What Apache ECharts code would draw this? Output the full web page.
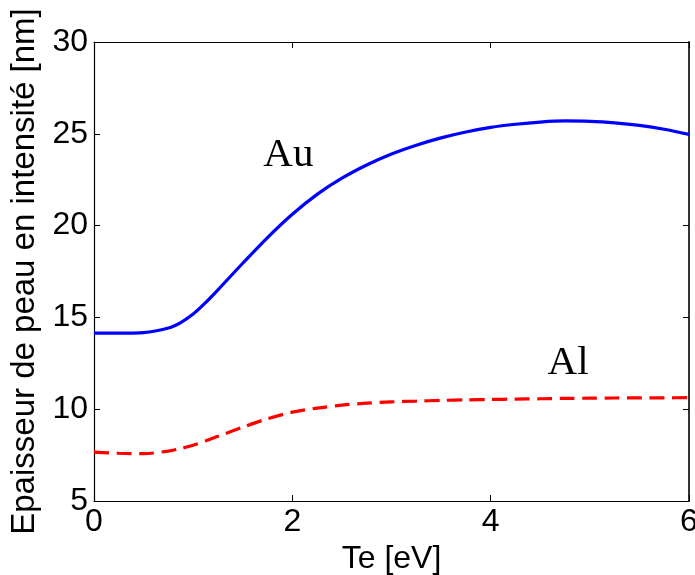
<!DOCTYPE html>
<html>
<head>
<meta charset="utf-8">
<script src="https://cdn.jsdelivr.net/npm/echarts@6/dist/echarts.min.js"></script>
<style>
html, body { margin: 0; padding: 0; background: #fff; }
#chart { width: 695px; height: 575px; }
</style>
</head>
<body>
<div id="chart"></div>
<script>
// Data
var teValues = [0, 0.25, 0.5, 0.75, 0.875, 1.0, 1.125, 1.25, 1.5, 1.75, 2.0, 2.25, 2.5, 2.75, 3.0, 3.25, 3.5, 3.75, 4.0, 4.25, 4.5, 4.75, 5.0, 5.25, 5.5, 5.75, 6.0];
var auValues = [14.14, 14.14, 14.17, 14.42, 14.72, 15.18, 15.8, 16.5, 17.95, 19.35, 20.62, 21.7, 22.58, 23.3, 23.9, 24.38, 24.78, 25.1, 25.35, 25.52, 25.64, 25.7, 25.68, 25.6, 25.46, 25.25, 24.97];
var alValues = [7.66, 7.6, 7.58, 7.72, 7.86, 8.04, 8.27, 8.52, 9.02, 9.48, 9.84, 10.06, 10.22, 10.33, 10.4, 10.44, 10.48, 10.51, 10.53, 10.55, 10.57, 10.59, 10.6, 10.61, 10.62, 10.62, 10.63];
var annotationLabels = ['Au', 'Al'];
var annotationX = [1.96, 4.78];
var annotationY = [23.85, 12.49];
var xTicks = [0, 2, 4, 6];
var yTicks = [5, 10, 15, 20, 25, 30];

function pairs(xs, ys) { return xs.map(function (x, i) { return [x, ys[i]]; }); }

var sansFont = "'Liberation Sans', Arial, Helvetica, sans-serif";
var serifFont = "'Liberation Serif', 'Times New Roman', serif";

var chart = echarts.init(document.getElementById('chart'), null, { renderer: 'canvas' });

var axisLine = { show: true, onZero: false, lineStyle: { color: '#000', width: 1.2 } };
var axisTick = { show: true, inside: true, length: 6, lineStyle: { color: '#000', width: 1 } };

var option = {
  backgroundColor: '#fff',
  animation: false,
  grid: { left: 94, right: 6, top: 42, bottom: 74, containLabel: false, outerBoundsMode: 'none' },
  xAxis: [
    {
      type: 'value', position: 'bottom',
      min: xTicks[0], max: xTicks[xTicks.length - 1], interval: 2,
      name: 'Te [eV]', nameLocation: 'middle', nameGap: 36,
      nameTextStyle: { fontSize: 32, color: '#000', fontFamily: sansFont },
      axisLine: axisLine, axisTick: axisTick,
      axisLabel: { show: true, fontSize: 32, color: '#000', fontFamily: sansFont, margin: 5, showMinLabel: true, showMaxLabel: true, hideOverlap: false },
      splitLine: { show: false }
    },
    {
      type: 'value', position: 'top',
      min: xTicks[0], max: xTicks[xTicks.length - 1], interval: 2,
      axisLine: axisLine, axisTick: axisTick,
      axisLabel: { show: false }, splitLine: { show: false }
    }
  ],
  yAxis: [
    {
      type: 'value', position: 'left',
      min: yTicks[0], max: yTicks[yTicks.length - 1], interval: 5,
      name: 'Epaisseur de peau en intensité [nm]', nameLocation: 'middle', nameGap: 46,
      nameTextStyle: { fontSize: 33, color: '#000', fontFamily: sansFont },
      axisLine: axisLine, axisTick: axisTick,
      axisLabel: { show: true, fontSize: 32, color: '#000', fontFamily: sansFont, margin: 6, showMinLabel: true, showMaxLabel: true, hideOverlap: false },
      splitLine: { show: false }
    },
    {
      type: 'value', position: 'right',
      min: yTicks[0], max: yTicks[yTicks.length - 1], interval: 5,
      axisLine: { show: true, onZero: false, lineStyle: { color: '#333', width: 2 } }, axisTick: axisTick,
      axisLabel: { show: false }, splitLine: { show: false }
    }
  ],
  series: [
    {
      name: 'Au', type: 'line', xAxisIndex: 0, yAxisIndex: 0,
      data: pairs(teValues, auValues),
      smooth: 0.3, showSymbol: false, symbol: 'none',
      lineStyle: { color: '#0000ff', width: 3.2, type: 'solid' }
    },
    {
      name: 'Al', type: 'line', xAxisIndex: 0, yAxisIndex: 0,
      data: pairs(teValues, alValues),
      smooth: 0.3, showSymbol: false, symbol: 'none',
      lineStyle: { color: '#ff0000', width: 3.2, type: [15, 7.5] }
    },
    {
      name: 'labels', type: 'scatter', xAxisIndex: 0, yAxisIndex: 0,
      symbolSize: 0, silent: true,
      itemStyle: { color: '#000', opacity: 1 },
      data: annotationLabels.map(function (t, i) { return { value: [annotationX[i], annotationY[i]], name: t }; }),
      label: {
        show: true, position: 'inside', formatter: function (p) { return p.name; },
        fontSize: 41, color: '#000', fontFamily: serifFont, fontWeight: 'normal',
        textBorderWidth: 0, textBorderColor: 'transparent', opacity: 1
      }
    }
  ]
};
chart.setOption(option);
</script>
</body>
</html>
